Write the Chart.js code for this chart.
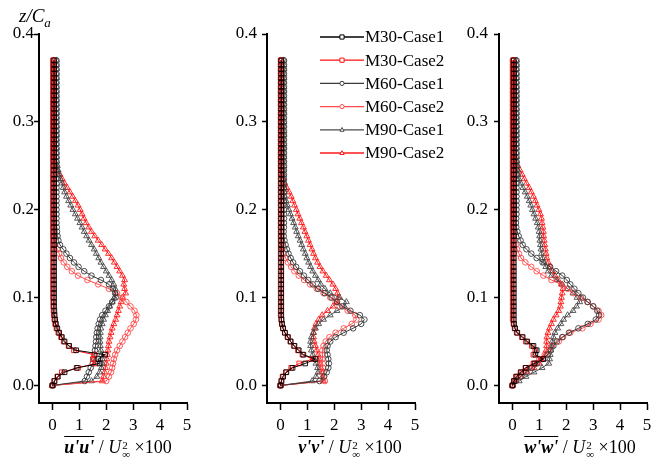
<!DOCTYPE html>
<html><head><meta charset="utf-8">
<script src="https://cdn.jsdelivr.net/npm/chart.js@4.4.0/dist/chart.umd.min.js"></script>
<style>
html,body{margin:0;padding:0;background:#fff;}
#wrap{position:relative;width:660px;height:459px;overflow:hidden;font-family:'Liberation Serif','Times New Roman',serif;color:#000;}
canvas{position:absolute;top:0;}
.xt{position:absolute;top:437px;width:180px;text-align:center;font-size:18px;white-space:nowrap;}
.ov{text-decoration:overline;font-style:italic;font-weight:bold;}
.st{display:inline-block;vertical-align:-5px;line-height:9px;font-size:11px;text-align:left;margin-left:1px;}
.st span{display:block;}
#yt{position:absolute;left:19px;top:5px;font-size:19px;font-style:italic;}
#yt sub{font-size:13px;}
</style></head>
<body><div id="wrap">
<canvas id="c1" width="220" height="459" style="left:0px"></canvas>
<canvas id="c2" width="260" height="459" style="left:220px"></canvas>
<canvas id="c3" width="220" height="459" style="left:440px"></canvas>
<div id="yt">z/C<sub>a</sub></div>
<div class="xt" style="left:28px"><span class="ov">u'u'</span> / <i>U</i><span class="st"><span>2</span><span>∞</span></span> ×100</div>
<div class="xt" style="left:260px"><span class="ov">v'v'</span> / <i>U</i><span class="st"><span>2</span><span>∞</span></span> ×100</div>
<div class="xt" style="left:490px"><span class="ov">w'w'</span> / <i>U</i><span class="st"><span>2</span><span>∞</span></span> ×100</div>
</div>
<script>
// z / C_a levels shared by all profiles
const Z = [
0,0.005,0.01,0.015,0.02,0.025,0.03,0.035,0.04,0.045,
0.05,0.055,0.06,0.065,0.07,0.075,0.08,0.085,0.09,0.095,
0.1,0.105,0.11,0.115,0.12,0.125,0.13,0.135,0.14,0.145,
0.15,0.155,0.16,0.165,0.17,0.175,0.18,0.185,0.19,0.195,
0.2,0.205,0.21,0.215,0.22,0.225,0.23,0.235,0.24,0.245,
0.25,0.255,0.26,0.265,0.27,0.275,0.28,0.285,0.29,0.295,
0.3,0.305,0.31,0.315,0.32,0.325,0.33,0.335,0.34,0.345,
0.35,0.355,0.36,0.365,0.37];

const seriesNames = ['M30-Case1','M30-Case2','M60-Case1','M60-Case2','M90-Case1','M90-Case2'];
const xTicks = [0,1,2,3,4,5];
const yTicks = [0,0.1,0.2,0.3,0.4];

// ---- u'u' panel ----
const U_M30_1 = [
0,0.08,0.2,0.45,0.9,1.75,1.7,1.95,0.88,0.62,
0.45,0.35,0.25,0.18,0.13,0.1,0.08,0.07,0.06,0.06,
0.06,0.06,0.06,0.06,0.06,0.06,0.06,0.06,0.06,0.06,
0.06,0.06,0.06,0.06,0.06,0.06,0.06,0.06,0.06,0.06,
0.06,0.06,0.06,0.06,0.06,0.06,0.06,0.06,0.06,0.06,
0.06,0.06,0.06,0.06,0.06,0.06,0.06,0.06,0.06,0.06,
0.06,0.06,0.06,0.06,0.06,0.06,0.06,0.06,0.06,0.06,
0.06,0.06,0.06,0.06,0.06];
const U_M30_2 = [
0,0.06,0.18,0.35,0.95,1.6,1.5,1.55,0.8,0.6,
0.42,0.32,0.22,0.15,0.1,0.07,0.05,0.04,0.03,0.03,
0.02,0.02,0.02,0.02,0.02,0.02,0.02,0.02,0.02,0.02,
0.02,0.02,0.02,0.02,0.02,0.02,0.02,0.02,0.02,0.02,
0.02,0.02,0.02,0.02,0.02,0.02,0.02,0.02,0.02,0.02,
0.02,0.02,0.02,0.02,0.02,0.02,0.02,0.02,0.02,0.02,
0.02,0.02,0.02,0.02,0.02,0.02,0.02,0.02,0.02,0.02,
0.02,0.02,0.02,0.02,0.02];
const U_M60_1 = [
0,1.2,1.28,1.35,1.42,1.5,1.55,1.57,1.58,1.6,
1.62,1.63,1.65,1.68,1.72,1.77,1.85,1.97,2.1,2.22,
2.35,2.33,2.25,2.1,1.8,1.45,1.18,0.97,0.8,0.65,
0.52,0.4,0.28,0.22,0.19,0.17,0.16,0.15,0.15,0.15,
0.15,0.15,0.15,0.15,0.15,0.15,0.15,0.15,0.15,0.15,
0.15,0.15,0.15,0.15,0.15,0.15,0.15,0.15,0.15,0.15,
0.15,0.15,0.15,0.15,0.15,0.15,0.15,0.15,0.15,0.15,
0.15,0.15,0.15,0.15,0.15];
const U_M60_2 = [
0,2.0,2.1,2.18,2.22,2.25,2.28,2.33,2.4,2.5,
2.6,2.7,2.8,2.9,3.02,3.1,3.12,3.05,2.9,2.75,
2.6,2.4,2.1,1.7,1.3,0.95,0.72,0.55,0.42,0.32,
0.25,0.18,0.1,0.06,0.03,0.03,0.03,0.03,0.03,0.03,
0.03,0.03,0.03,0.03,0.03,0.03,0.03,0.03,0.03,0.03,
0.03,0.03,0.03,0.03,0.03,0.03,0.03,0.03,0.03,0.03,
0.03,0.03,0.03,0.03,0.03,0.03,0.03,0.03,0.03,0.03,
0.03,0.03,0.03,0.03,0.03];
const U_M90_1 = [
0,1.45,1.65,1.75,1.82,1.85,1.85,1.82,1.8,1.78,
1.77,1.77,1.78,1.8,1.85,1.9,1.97,2.05,2.13,2.22,
2.3,2.35,2.33,2.28,2.2,2.1,2.0,1.9,1.8,1.72,
1.63,1.55,1.45,1.36,1.27,1.18,1.1,1.02,0.93,0.85,
0.76,0.68,0.6,0.52,0.45,0.4,0.35,0.3,0.25,0.21,
0.18,0.16,0.15,0.15,0.15,0.15,0.15,0.15,0.15,0.15,
0.15,0.15,0.15,0.15,0.15,0.15,0.15,0.15,0.15,0.15,
0.15,0.15,0.15,0.15,0.15];
const U_M90_2 = [
0,1.85,1.9,1.94,1.97,2.0,2.02,2.04,2.06,2.08,
2.1,2.14,2.18,2.22,2.28,2.35,2.4,2.45,2.5,2.55,
2.6,2.72,2.68,2.65,2.68,2.6,2.5,2.4,2.3,2.2,
2.08,1.96,1.83,1.7,1.57,1.45,1.35,1.25,1.17,1.1,
1.03,0.95,0.85,0.75,0.65,0.55,0.45,0.36,0.28,0.2,
0.12,0.08,0.05,0.05,0.05,0.05,0.05,0.05,0.05,0.05,
0.05,0.05,0.05,0.05,0.05,0.05,0.05,0.05,0.05,0.05,
0.05,0.05,0.05,0.05,0.05];

// ---- v'v' panel ----
const V_M30_1 = [
0,0.04,0.1,0.22,0.45,0.92,1.3,0.85,0.68,0.52,
0.38,0.28,0.17,0.1,0.06,0.04,0.03,0.03,0.03,0.03,
0.03,0.03,0.03,0.03,0.03,0.03,0.03,0.03,0.03,0.03,
0.03,0.03,0.03,0.03,0.03,0.03,0.03,0.03,0.03,0.03,
0.03,0.03,0.03,0.03,0.03,0.03,0.03,0.03,0.03,0.03,
0.03,0.03,0.03,0.03,0.03,0.03,0.03,0.03,0.03,0.03,
0.03,0.03,0.03,0.03,0.03,0.03,0.03,0.03,0.03,0.03,
0.03,0.03,0.03,0.03,0.03];
const V_M30_2 = [
0,0.03,0.08,0.2,0.4,0.7,1.2,0.82,0.65,0.5,
0.37,0.26,0.16,0.09,0.05,0.03,0.01,0.01,0.01,0.01,
0.01,0.01,0.01,0.01,0.01,0.01,0.01,0.01,0.01,0.01,
0.01,0.01,0.01,0.01,0.01,0.01,0.01,0.01,0.01,0.01,
0.01,0.01,0.01,0.01,0.01,0.01,0.01,0.01,0.01,0.01,
0.01,0.01,0.01,0.01,0.01,0.01,0.01,0.01,0.01,0.01,
0.01,0.01,0.01,0.01,0.01,0.01,0.01,0.01,0.01,0.01,
0.01,0.01,0.01,0.01,0.01];
const V_M60_1 = [
0,1.45,1.62,1.72,1.78,1.8,1.78,1.75,1.72,1.75,
1.85,2.05,2.35,2.7,3.0,3.12,2.95,2.6,2.3,2.1,
1.9,1.65,1.4,1.2,1.03,0.87,0.72,0.58,0.47,0.38,
0.3,0.24,0.19,0.15,0.12,0.12,0.13,0.13,0.13,0.13,
0.13,0.13,0.13,0.13,0.13,0.13,0.13,0.13,0.13,0.13,
0.13,0.13,0.13,0.13,0.13,0.13,0.13,0.13,0.13,0.13,
0.13,0.13,0.13,0.13,0.13,0.13,0.13,0.13,0.13,0.13,
0.13,0.13,0.13,0.13,0.13];
const V_M60_2 = [
0,1.65,1.62,1.6,1.58,1.57,1.56,1.55,1.56,1.6,
1.68,1.82,2.05,2.35,2.65,2.82,2.78,2.5,2.2,2.05,
1.85,1.6,1.35,1.1,0.88,0.68,0.52,0.4,0.28,0.19,
0.12,0.07,0.04,0.03,0.02,0.02,0.02,0.02,0.02,0.02,
0.02,0.02,0.02,0.02,0.02,0.02,0.02,0.02,0.02,0.02,
0.02,0.02,0.02,0.02,0.02,0.02,0.02,0.02,0.02,0.02,
0.02,0.02,0.02,0.02,0.02,0.02,0.02,0.02,0.02,0.02,
0.02,0.02,0.02,0.02,0.02];
const V_M90_1 = [
0,1.18,1.32,1.4,1.38,1.32,1.25,1.2,1.15,1.12,
1.12,1.15,1.22,1.3,1.42,1.6,1.85,2.1,2.38,2.45,
2.2,1.85,1.65,1.5,1.4,1.3,1.2,1.12,1.05,0.98,
0.92,0.85,0.79,0.73,0.66,0.6,0.55,0.49,0.43,0.37,
0.31,0.26,0.21,0.16,0.14,0.13,0.12,0.12,0.12,0.12,
0.13,0.13,0.13,0.13,0.13,0.13,0.13,0.13,0.13,0.13,
0.13,0.13,0.13,0.13,0.13,0.13,0.13,0.13,0.13,0.13,
0.13,0.13,0.13,0.13,0.13];
const V_M90_2 = [
0,1.6,1.56,1.53,1.5,1.46,1.43,1.4,1.35,1.3,
1.25,1.23,1.23,1.26,1.32,1.42,1.55,1.75,1.95,2.1,
2.15,2.12,2.05,1.95,1.82,1.7,1.58,1.47,1.38,1.3,
1.23,1.17,1.1,1.04,0.98,0.91,0.85,0.78,0.72,0.65,
0.59,0.52,0.46,0.4,0.32,0.23,0.16,0.1,0.06,0.04,
0.02,0.02,0.02,0.02,0.02,0.02,0.02,0.02,0.02,0.02,
0.02,0.02,0.02,0.02,0.02,0.02,0.02,0.02,0.02,0.02,
0.02,0.02,0.02,0.02,0.02];

// ---- w'w' panel ----
const W_M30_1 = [
0,0.06,0.15,0.32,0.5,0.82,1.15,0.85,0.9,0.78,
0.55,0.38,0.18,0.1,0.06,0.05,0.05,0.05,0.05,0.05,
0.05,0.05,0.05,0.05,0.05,0.05,0.05,0.05,0.05,0.05,
0.05,0.05,0.05,0.05,0.05,0.05,0.05,0.05,0.05,0.05,
0.05,0.05,0.05,0.05,0.05,0.05,0.05,0.05,0.05,0.05,
0.05,0.05,0.05,0.05,0.05,0.05,0.05,0.05,0.05,0.05,
0.05,0.05,0.05,0.05,0.05,0.05,0.05,0.05,0.05,0.05,
0.05,0.05,0.05,0.05,0.05];
const W_M30_2 = [
0,0.05,0.13,0.3,0.48,0.78,1.05,0.78,0.85,0.72,
0.5,0.35,0.16,0.08,0.04,0.01,0.01,0.01,0.01,0.01,
0.01,0.01,0.01,0.01,0.01,0.01,0.01,0.01,0.01,0.01,
0.01,0.01,0.01,0.01,0.01,0.01,0.01,0.01,0.01,0.01,
0.01,0.01,0.01,0.01,0.01,0.01,0.01,0.01,0.01,0.01,
0.01,0.01,0.01,0.01,0.01,0.01,0.01,0.01,0.01,0.01,
0.01,0.01,0.01,0.01,0.01,0.01,0.01,0.01,0.01,0.01,
0.01,0.01,0.01,0.01,0.01];
const W_M60_1 = [
0,0.12,0.3,0.5,0.72,0.92,1.12,1.3,1.42,1.52,
1.65,1.85,2.1,2.45,2.8,3.1,3.22,3.15,3.0,2.8,
2.62,2.45,2.3,2.15,2.02,1.85,1.62,1.4,1.12,0.9,
0.7,0.52,0.38,0.3,0.23,0.18,0.14,0.13,0.14,0.15,
0.15,0.15,0.15,0.15,0.15,0.15,0.15,0.15,0.15,0.15,
0.15,0.15,0.15,0.15,0.15,0.15,0.15,0.15,0.15,0.15,
0.15,0.15,0.15,0.15,0.15,0.15,0.15,0.15,0.15,0.15,
0.15,0.15,0.15,0.15,0.15];
const W_M60_2 = [
0,0.08,0.2,0.38,0.62,0.85,1.0,1.2,1.35,1.47,
1.72,1.88,2.15,2.6,2.9,3.2,3.3,3.2,3.0,2.78,
2.55,2.27,2.05,1.82,1.45,1.15,0.9,0.7,0.48,0.32,
0.24,0.17,0.12,0.08,0.05,0.03,0.02,0.02,0.02,0.02,
0.02,0.02,0.02,0.02,0.02,0.02,0.02,0.02,0.02,0.02,
0.02,0.02,0.02,0.02,0.02,0.02,0.02,0.02,0.02,0.02,
0.02,0.02,0.02,0.02,0.02,0.02,0.02,0.02,0.02,0.02,
0.02,0.02,0.02,0.02,0.02];
const W_M90_1 = [
0,0.25,0.5,0.8,1.1,1.35,1.38,1.4,1.42,1.45,
1.48,1.52,1.58,1.68,1.8,1.9,2.05,2.25,2.38,2.5,
2.4,2.25,2.05,1.85,1.65,1.45,1.33,1.24,1.17,1.12,
1.08,1.06,1.04,1.02,1.01,0.99,0.96,0.92,0.86,0.8,
0.74,0.68,0.62,0.55,0.47,0.39,0.31,0.24,0.21,0.19,
0.17,0.16,0.15,0.15,0.15,0.15,0.15,0.15,0.15,0.15,
0.15,0.15,0.15,0.15,0.15,0.15,0.15,0.15,0.15,0.15,
0.15,0.15,0.15,0.15,0.15];
const W_M90_2 = [
0,0.12,0.3,0.55,0.8,1.0,1.15,1.22,1.25,1.27,
1.27,1.28,1.32,1.38,1.45,1.52,1.62,1.72,1.78,1.8,
1.82,1.85,1.88,1.82,1.7,1.58,1.48,1.4,1.33,1.28,
1.25,1.22,1.2,1.18,1.16,1.15,1.13,1.1,1.08,1.04,
0.98,0.91,0.85,0.78,0.7,0.62,0.52,0.44,0.36,0.28,
0.2,0.14,0.09,0.05,0.03,0.02,0.02,0.02,0.02,0.02,
0.02,0.02,0.02,0.02,0.02,0.02,0.02,0.02,0.02,0.02,
0.02,0.02,0.02,0.02,0.02];

// ---- styles (kept apart from the data) ----
const STY = [
  {color:'#000000', mk:'rect',     r:3.3},
  {color:'#ff1010', mk:'rect',     r:3.3},
  {color:'#3a3a3a', mk:'circle',   r:2.8},
  {color:'#ff4a4a', mk:'circle',   r:2.8},
  {color:'#4a4a4a', mk:'triangle', r:3.4},
  {color:'#ff1a1a', mk:'triangle', r:3.4}
];
const FONT = "'Liberation Serif','Times New Roman',serif";

function drawMarker(ctx, kind, x, y, r) {
  ctx.beginPath();
  if (kind === 'rect') { ctx.rect(x - r, y - r, 2 * r, 2 * r); }
  else if (kind === 'circle') { ctx.arc(x, y, r, 0, Math.PI * 2); }
  else { ctx.moveTo(x, y - r * 1.1); ctx.lineTo(x + r, y + r * 0.7); ctx.lineTo(x - r, y + r * 0.7); ctx.closePath(); }
  ctx.fill(); ctx.stroke();
}

const legendPlugin = {
  id: 'inlineLegend',
  afterDraw(chart) {
    const ctx = chart.ctx;
    ctx.save();
    seriesNames.forEach((name, i) => {
      const y = 37 + 23.2 * i;
      const s = STY[i];
      ctx.strokeStyle = s.color; ctx.lineWidth = 1.3;
      ctx.beginPath(); ctx.moveTo(100, y); ctx.lineTo(144, y); ctx.stroke();
      ctx.fillStyle = '#fff'; ctx.lineWidth = 1;
      drawMarker(ctx, s.mk, 122, y, 2.1);
      ctx.fillStyle = '#000';
      ctx.font = '17px ' + FONT;
      ctx.textAlign = 'left'; ctx.textBaseline = 'middle';
      ctx.fillText(name, 145, y + 1);
    });
    ctx.restore();
  }
};

function makePanel(id, arrays, yWidth, rightPad, yPad, withLegend) {
  const datasets = arrays.map((arr, k) => ({
    label: seriesNames[k],
    data: Z.map((z, i) => ({x: arr[i], y: z})),
    borderColor: STY[k].color,
    borderWidth: 1,
    pointStyle: STY[k].mk,
    pointRadius: STY[k].r,
    pointBorderWidth: 0.9,
    pointBorderColor: STY[k].color,
    pointBackgroundColor: 'rgba(255,255,255,0)',
    showLine: true,
    tension: 0,
    fill: false
  }));
  new Chart(document.getElementById(id), {
    type: 'scatter',
    data: {datasets},
    options: {
      responsive: false, animation: false, devicePixelRatio: 1,
      layout: {padding: {left: 0, right: rightPad, top: 34, bottom: 0}},
      plugins: {legend: {display: false}, tooltip: {enabled: false}},
      scales: {
        x: {
          type: 'linear', min: -0.5, max: 5,
          afterBuildTicks: s => { s.ticks = xTicks.map(v => ({value: v})); },
          afterFit: s => { s.height = 56; },
          ticks: {color: '#000', font: {family: FONT, size: 17}, padding: 5, maxRotation: 0, autoSkip: false,
                  callback: v => String(v)},
          grid: {drawOnChartArea: false, drawTicks: true, tickLength: 7, tickColor: '#000', tickWidth: 1.5},
          border: {display: true, color: '#000', width: 2}
        },
        y: {
          type: 'linear', min: -0.02, max: 0.4,
          afterBuildTicks: s => { s.ticks = yTicks.map(v => ({value: v})); },
          afterFit: s => { s.width = yWidth; },
          ticks: {color: '#000', font: {family: FONT, size: 17}, padding: yPad, autoSkip: false,
                  callback: v => Number(v).toFixed(1)},
          grid: {drawOnChartArea: false, drawTicks: true, tickLength: 5, tickColor: '#000', tickWidth: 1.5},
          border: {display: true, color: '#000', width: 2}
        }
      }
    },
    plugins: withLegend ? [legendPlugin] : []
  });
}

makePanel('c1', [U_M30_1, U_M30_2, U_M60_1, U_M60_2, U_M90_1, U_M90_2], 39, 33, 0, false);
makePanel('c2', [V_M30_1, V_M30_2, V_M60_1, V_M60_2, V_M90_1, V_M90_2], 47, 65, 5, true);
makePanel('c3', [W_M30_1, W_M30_2, W_M60_1, W_M60_2, W_M90_1, W_M90_2], 59, 13, 6, false);
</script>
</body></html>
